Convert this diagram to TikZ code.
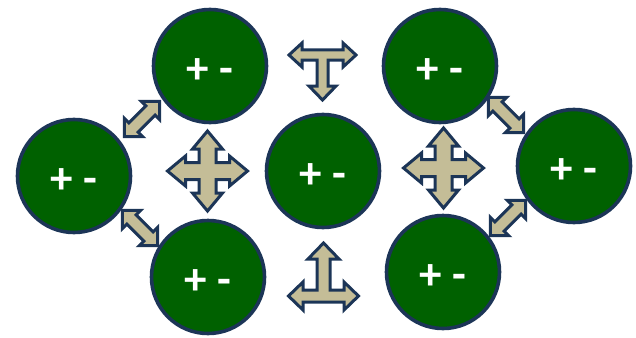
\documentclass[tikz,border=0pt]{standalone}
\usepackage{fontspec}
\setmainfont{Carlito}
\definecolor{cgreen}{HTML}{006100}
\definecolor{cnavy}{HTML}{1C3557}
\definecolor{ctan}{HTML}{C4BD97}
\tikzset{
  ball/.style={circle, draw=cnavy, line width=3.6pt, fill=cgreen, minimum size=113pt, inner sep=0pt},
  lbl/.style={text=white, font=\bfseries\fontsize{45}{45}\selectfont, inner sep=0pt},
  arr/.style={draw=cnavy, fill=ctan, line width=3pt, line join=miter},
  pics/quadarr/.style={code={
    \draw[arr] (0,-40) -- (15,-22) -- (8.5,-22) -- (8.5,-8.5) -- (22,-8.5) -- (22,-15) -- (40,0)
      -- (22,15) -- (22,8.5) -- (8.5,8.5) -- (8.5,22) -- (15,22) -- (0,40)
      -- (-15,22) -- (-8.5,22) -- (-8.5,8.5) -- (-22,8.5) -- (-22,15) -- (-40,0)
      -- (-22,-15) -- (-22,-8.5) -- (-8.5,-8.5) -- (-8.5,-22) -- (-15,-22) -- cycle;
  }},
  pics/diagarr/.style={code={
    \draw[arr] (25,0) -- (12,13) -- (12,6.5) -- (-12,6.5) -- (-12,13) -- (-25,0)
      -- (-12,-13) -- (-12,-6.5) -- (12,-6.5) -- (12,-13) -- cycle;
  }}
}
\begin{document}
\begin{tikzpicture}[x=1pt,y=-1pt]
\useasboundingbox (0,0) rectangle (636,337);
% circles
\node[ball] (tl) at (210,66) {};
\node[ball] (l) at (74,176) {};
\node[ball] (bl) at (208,277) {};
\node[ball] (c) at (323,171) {};
\node[ball] (tr) at (440,66) {};
\node[ball] (r) at (574,166) {};
\node[ball] (br) at (443,272) {};
\foreach \n in {tl,l,bl,c,tr,r,br}{
  \node[lbl] (t\n) at ([yshift=-5pt]\n.center) {+ -};
}
% quad arrows
\pic (q1) at (207.5,171) {quadarr};
\pic (q2) at (443.5,168) {quadarr};
% diagonal arrows
\pic[rotate=45] (d1) at (142,119) {diagarr};
\pic[rotate=-45] (d2) at (140,228) {diagarr};
\pic[rotate=-45] (d3) at (506,115) {diagarr};
\pic[rotate=45] (d4) at (508,218) {diagarr};
% top T arrow (left-right-down)
\draw[arr] (289,55) -- (302,43) -- (302,50) -- (343,50) -- (343,43) -- (356,55) -- (343,67)
  -- (343,60) -- (328,60) -- (328,86) -- (336,86) -- (322.5,100) -- (309,86) -- (317,86)
  -- (317,60) -- (302,60) -- (302,67) -- cycle;
% bottom T arrow (left-right-up)
\draw[arr] (323.5,243) -- (339,259) -- (330,259) -- (330,290) -- (344,290) -- (344,282)
  -- (358.5,296) -- (344,310) -- (344,302) -- (303,302) -- (303,310) -- (288.5,296) -- (303,282)
  -- (303,290) -- (317,290) -- (317,259) -- (308,259) -- cycle;
\end{tikzpicture}
\end{document}
